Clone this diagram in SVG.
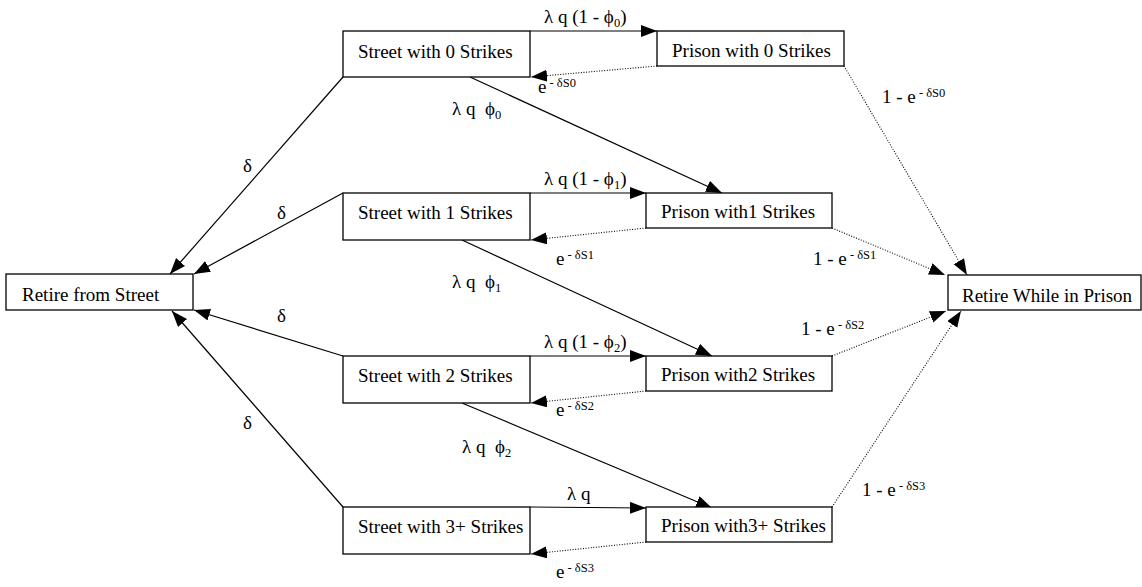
<svg xmlns="http://www.w3.org/2000/svg" width="1142" height="587" viewBox="0 0 1142 587">
  <defs>
    <marker id="arrow" markerUnits="userSpaceOnUse" markerWidth="17" markerHeight="13" refX="16" refY="6" orient="auto">
      <path d="M0,0 L16,6 L0,12 Z" fill="#000"/>
    </marker>
    <style>
      .box { fill: #fff; stroke: #000; stroke-width: 1.3; }
      .lbl { font-family: "Liberation Serif", "Times New Roman", serif; font-size: 19px; fill: #000; }
      .sup { font-size: 12.5px; }
      .sub { font-size: 12.5px; }
      .solid { stroke: #000; stroke-width: 1.2; fill: none; marker-end: url(#arrow); }
      .dot { stroke: #000; stroke-width: 1.1; stroke-dasharray: 1 1.6; fill: none; marker-end: url(#arrow); }
    </style>
  </defs>
  <rect width="1142" height="587" fill="#fff"/>

  <!-- connectors -->
  <g id="connectors">
    <!-- street to prison -->
    <line class="solid" x1="530" y1="31" x2="657" y2="31"/>
    <line class="solid" x1="530" y1="193" x2="646" y2="193"/>
    <line class="solid" x1="530" y1="356" x2="646" y2="356"/>
    <line class="solid" x1="530" y1="507" x2="646" y2="508"/>
    <!-- released from prison -->
    <line class="dot" x1="657" y1="66" x2="531" y2="77"/>
    <line class="dot" x1="646" y1="228" x2="531" y2="240"/>
    <line class="dot" x1="646" y1="391" x2="531" y2="403"/>
    <line class="dot" x1="646" y1="542" x2="531" y2="554"/>
    <!-- strike to next prison -->
    <line class="solid" x1="470" y1="77" x2="722" y2="193"/>
    <line class="solid" x1="462" y1="240" x2="712" y2="356"/>
    <line class="solid" x1="462" y1="403" x2="712" y2="508"/>
    <!-- retire from street -->
    <line class="solid" x1="343" y1="77" x2="170" y2="274"/>
    <line class="solid" x1="343" y1="193" x2="194" y2="274"/>
    <line class="solid" x1="343" y1="356" x2="194" y2="310"/>
    <line class="solid" x1="343" y1="507" x2="172" y2="311"/>
    <!-- retire while in prison -->
    <line class="dot" x1="844" y1="66" x2="967" y2="275"/>
    <line class="dot" x1="832" y1="228" x2="945" y2="275"/>
    <line class="dot" x1="832" y1="356" x2="946" y2="311"/>
    <line class="dot" x1="832" y1="507" x2="961" y2="311"/>
  </g>

  <!-- connector labels -->
  <g id="labels" class="lbl">
    <text x="544" y="23">λ q (1 - ϕ<tspan class="sub" dy="4">0</tspan><tspan dy="-4">)</tspan></text>
    <text x="544" y="185">λ q (1 - ϕ<tspan class="sub" dy="4">1</tspan><tspan dy="-4">)</tspan></text>
    <text x="544" y="348">λ q (1 - ϕ<tspan class="sub" dy="4">2</tspan><tspan dy="-4">)</tspan></text>
    <text x="567" y="500">λ q</text>

    <text x="538" y="93">e<tspan class="sup" dy="-6"> - δS0</tspan></text>
    <text x="556" y="265">e<tspan class="sup" dy="-6"> - δS1</tspan></text>
    <text x="556" y="416">e<tspan class="sup" dy="-6"> - δS2</tspan></text>
    <text x="556" y="578">e<tspan class="sup" dy="-6"> - δS3</tspan></text>

    <text x="452" y="115" xml:space="preserve">λ q  ϕ<tspan class="sub" dy="4">0</tspan></text>
    <text x="452" y="288" xml:space="preserve">λ q  ϕ<tspan class="sub" dy="4">1</tspan></text>
    <text x="462" y="453" xml:space="preserve">λ q  ϕ<tspan class="sub" dy="4">2</tspan></text>

    <text x="243" y="172">δ</text>
    <text x="277" y="219">δ</text>
    <text x="277" y="322">δ</text>
    <text x="243" y="429">δ</text>

    <text x="882" y="103">1 - e<tspan class="sup" dy="-6"> - δS0</tspan></text>
    <text x="813" y="265">1 - e<tspan class="sup" dy="-6"> - δS1</tspan></text>
    <text x="801" y="335">1 - e<tspan class="sup" dy="-6"> - δS2</tspan></text>
    <text x="862" y="496">1 - e<tspan class="sup" dy="-6"> - δS3</tspan></text>
  </g>

  <!-- nodes -->
  <g id="street0">
    <rect class="box" x="343" y="31" width="187" height="46"/>
    <text class="lbl" x="358" y="58">Street with 0 Strikes</text>
  </g>
  <g id="street1">
    <rect class="box" x="343" y="193" width="187" height="47"/>
    <text class="lbl" x="358" y="219">Street with 1 Strikes</text>
  </g>
  <g id="street2">
    <rect class="box" x="343" y="356" width="187" height="47"/>
    <text class="lbl" x="358" y="382">Street with 2 Strikes</text>
  </g>
  <g id="street3">
    <rect class="box" x="343" y="507" width="187" height="47"/>
    <text class="lbl" x="358" y="533">Street with 3+ Strikes</text>
  </g>
  <g id="prison0">
    <rect class="box" x="657" y="31" width="187" height="35"/>
    <text class="lbl" x="672" y="57">Prison with 0 Strikes</text>
  </g>
  <g id="prison1">
    <rect class="box" x="646" y="193" width="186" height="35"/>
    <text class="lbl" x="661" y="218">Prison with1 Strikes</text>
  </g>
  <g id="prison2">
    <rect class="box" x="646" y="356" width="186" height="35"/>
    <text class="lbl" x="661" y="381">Prison with2 Strikes</text>
  </g>
  <g id="prison3">
    <rect class="box" x="646" y="507" width="186" height="35"/>
    <text class="lbl" x="661" y="532">Prison with3+ Strikes</text>
  </g>
  <g id="retire-street">
    <rect class="box" x="6" y="274" width="187" height="36"/>
    <text class="lbl" x="22" y="301">Retire from Street</text>
  </g>
  <g id="retire-prison">
    <rect class="box" x="948" y="275" width="193" height="35"/>
    <text class="lbl" x="962" y="302">Retire While in Prison</text>
  </g>
</svg>
